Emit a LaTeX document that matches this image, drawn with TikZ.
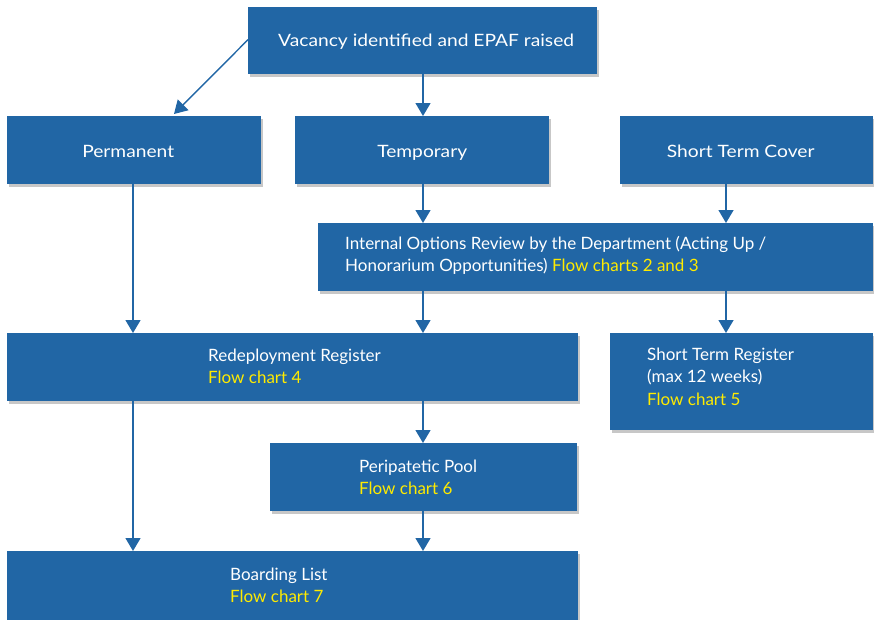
\documentclass[tikz,border=0pt]{standalone}
\usepackage{fontspec}
\setmainfont{Lato}
\newfontfamily\widefont[FakeStretch=1.13]{Lato}
\usetikzlibrary{arrows.meta,shadows,calc}
\definecolor{boxblue}{HTML}{2166A5}
\definecolor{hlyellow}{HTML}{FFEB00}
\newcommand{\hl}[1]{\textcolor{hlyellow}{#1}}
\tikzset{
  box/.style={fill=boxblue, draw=none, anchor=north west, inner sep=0pt,
    drop shadow={shadow xshift=1.5pt, shadow yshift=-2.5pt, opacity=0.22, fill=black}},
  txt/.style={text=white, font=\fontsize{17}{22.5}\selectfont, align=left, inner sep=0pt, anchor=west},
  widetxt/.style={text=white, font=\widefont\fontsize{17}{22.5}\selectfont, align=left, inner sep=0pt, anchor=west},
  arr/.style={draw=boxblue, line width=1.4pt, -{Triangle[width=15pt,length=13pt]}}
}
\begin{document}
\begin{tikzpicture}[x=1pt,y=-1pt]
\useasboundingbox (0,0) rectangle (874,619);
% boxes
\node[box, minimum width=349, minimum height=67] (vac) at (248,7) {};
\node[box, minimum width=254, minimum height=68] (perm) at (7,116) {};
\node[box, minimum width=254, minimum height=68] (temp) at (295,116) {};
\node[box, minimum width=253, minimum height=68] (stc) at (620,116) {};
\node[box, minimum width=555, minimum height=68] (int) at (318,223) {};
\node[box, minimum width=571, minimum height=68] (redep) at (7,333) {};
\node[box, minimum width=263, minimum height=97] (str) at (610,333) {};
\node[box, minimum width=307, minimum height=68] (peri) at (270,443) {};
\node[box, minimum width=571, minimum height=70] (board) at (7,551) {};
% texts
\node[widetxt] (tvac) at ([xshift=30,yshift=-1]vac.west) {Vacancy identified and EPAF raised};
\node[widetxt, anchor=center] (tperm) at ([xshift=-6,yshift=-1]perm.center) {Permanent};
\node[widetxt, anchor=center] (ttemp) at ([yshift=-3]temp.center) {Temporary};
\node[widetxt, anchor=center] (tstc) at ([xshift=-6,yshift=-1]stc.center) {Short Term Cover};
\node[txt] (tint) at ([xshift=27,yshift=2]int.west) {Internal Options Review by the Department (Acting Up /\\Honorarium Opportunities) \hl{Flow charts 2 and 3}};
\node[txt] (tredep) at ([xshift=201,yshift=1]redep.west) {Redeployment Register\\\hl{Flow chart 4}};
\node[txt] (tstr) at ([xshift=37,yshift=5]str.west) {Short Term Register\\(max 12 weeks)\\\hl{Flow chart 5}};
\node[txt] (tperi) at ([xshift=89]peri.west) {Peripatetic Pool\\\hl{Flow chart 6}};
\node[txt] (tboard) at ([xshift=223,yshift=1]board.west) {Boarding List\\\hl{Flow chart 7}};
% column coordinates
\coordinate (cl) at (133,0);
\coordinate (cm) at (423,0);
\coordinate (cr) at (726,0);
\coordinate (diagend) at (174,114);
% connectors
\draw[arr] ([yshift=1]vac.west) -- (diagend);
\draw[arr] (vac.south -| cm) -- (temp.north -| cm);
\draw[arr] (temp.south -| cm) -- (int.north -| cm);
\draw[arr] (stc.south -| cr) -- (int.north -| cr);
\draw[arr] (perm.south -| cl) -- (redep.north -| cl);
\draw[arr] (int.south -| cm) -- (redep.north -| cm);
\draw[arr] (int.south -| cr) -- (str.north -| cr);
\draw[arr] (redep.south -| cm) -- (peri.north -| cm);
\draw[arr] (redep.south -| cl) -- (board.north -| cl);
\draw[arr] (peri.south -| cm) -- (board.north -| cm);
\end{tikzpicture}
\end{document}
